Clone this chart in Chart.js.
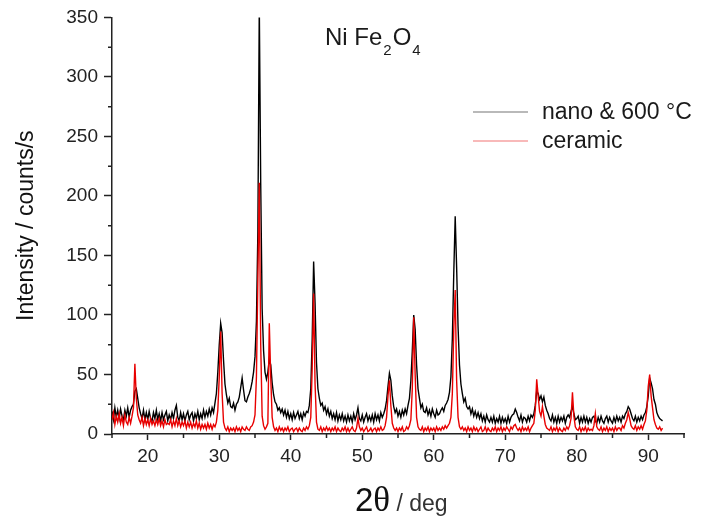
<!DOCTYPE html>
<html>
<head>
<meta charset="utf-8">
<script src="https://cdn.jsdelivr.net/npm/chart.js@4/dist/chart.umd.min.js"></script>
<style>
html,body{margin:0;padding:0;background:#fff;}
#wrap{position:relative;width:702px;height:523px;}
canvas{display:block;}
</style>
</head>
<body>
<div id="wrap"><canvas id="c" width="702" height="523"></canvas></div>
<script>
// 2θ positions (deg)
const twoTheta = [
15,15.2,15.4,15.6,15.8, 16,16.2,16.4,16.6,16.8, 17,17.2,17.4,17.6,17.8, 18,18.2,18.4,18.6,18.8,
19,19.2,19.4,19.6,19.8, 20,20.2,20.4,20.6,20.8, 21,21.2,21.4,21.6,21.8, 22,22.2,22.4,22.6,22.8,
23,23.2,23.4,23.6,23.8, 24,24.2,24.4,24.6,24.8, 25,25.2,25.4,25.6,25.8, 26,26.2,26.4,26.6,26.8,
27,27.2,27.4,27.6,27.8, 28,28.2,28.4,28.6,28.8, 29,29.2,29.4,29.6,29.8, 30,30.2,30.4,30.6,30.8,
31,31.2,31.4,31.6,31.8, 32,32.2,32.4,32.6,32.8, 33,33.2,33.4,33.6,33.8, 34,34.2,34.4,34.6,34.8,
35,35.2,35.4,35.6,35.8, 36,36.2,36.4,36.6,36.8, 37,37.2,37.4,37.6,37.8, 38,38.2,38.4,38.6,38.8,
39,39.2,39.4,39.6,39.8, 40,40.2,40.4,40.6,40.8, 41,41.2,41.4,41.6,41.8, 42,42.2,42.4,42.6,42.8,
43,43.2,43.4,43.6,43.8, 44,44.2,44.4,44.6,44.8, 45,45.2,45.4,45.6,45.8, 46,46.2,46.4,46.6,46.8,
47,47.2,47.4,47.6,47.8, 48,48.2,48.4,48.6,48.8, 49,49.2,49.4,49.6,49.8, 50,50.2,50.4,50.6,50.8,
51,51.2,51.4,51.6,51.8, 52,52.2,52.4,52.6,52.8, 53,53.2,53.4,53.6,53.8, 54,54.2,54.4,54.6,54.8,
55,55.2,55.4,55.6,55.8, 56,56.2,56.4,56.6,56.8, 57,57.2,57.4,57.6,57.8, 58,58.2,58.4,58.6,58.8,
59,59.2,59.4,59.6,59.8, 60,60.2,60.4,60.6,60.8, 61,61.2,61.4,61.6,61.8, 62,62.2,62.4,62.6,62.8,
63,63.2,63.4,63.6,63.8, 64,64.2,64.4,64.6,64.8, 65,65.2,65.4,65.6,65.8, 66,66.2,66.4,66.6,66.8,
67,67.2,67.4,67.6,67.8, 68,68.2,68.4,68.6,68.8, 69,69.2,69.4,69.6,69.8, 70,70.2,70.4,70.6,70.8,
71,71.2,71.4,71.6,71.8, 72,72.2,72.4,72.6,72.8, 73,73.2,73.4,73.6,73.8, 74,74.2,74.4,74.6,74.8,
75,75.2,75.4,75.6,75.8, 76,76.2,76.4,76.6,76.8, 77,77.2,77.4,77.6,77.8, 78,78.2,78.4,78.6,78.8,
79,79.2,79.4,79.6,79.8, 80,80.2,80.4,80.6,80.8, 81,81.2,81.4,81.6,81.8, 82,82.2,82.4,82.6,82.8,
83,83.2,83.4,83.6,83.8, 84,84.2,84.4,84.6,84.8, 85,85.2,85.4,85.6,85.8, 86,86.2,86.4,86.6,86.8,
87,87.2,87.4,87.6,87.8, 88,88.2,88.4,88.6,88.8, 89,89.2,89.4,89.6,89.8, 90,90.2,90.4,90.6,90.8,
91,91.2,91.4,91.6,91.8, 92
];

// nano & 600 °C intensity (counts/s)
const nano = [
19,12,22,14,20, 13,21,15,12,20, 15,22,14,20,23, 25,36,38,30,22,
17,13,20,12,18, 12,19,13,11,18, 13,20,12,17,11, 18,12,16,19,11,
16,12,18,13,20, 24,14,11,18,12, 17,11,16,19,12, 16,18,11,17,13,
19,12,17,13,20, 14,19,15,21,16, 22,18,26,34,52, 75,93,85,62,42,
33,26,30,23,22, 26,20,25,27,31, 39,47,37,28,27, 31,34,38,44,52,
65,95,170,360,210, 105,70,52,46,52, 63,58,43,33,27, 25,20,22,18,21,
16,20,14,19,13, 17,12,18,13,16, 19,13,17,12,18, 15,19,18,24,38,
80,145,110,60,38, 30,24,26,20,23, 17,21,15,19,13, 17,12,18,11,16,
12,17,11,15,10, 16,11,15,10,17, 12,16,22,13,11, 16,10,14,17,11,
15,11,16,10,17, 12,16,11,18,14, 17,21,28,40,51, 45,32,23,18,21,
15,19,14,20,16, 21,17,24,30,45, 70,100,88,58,38, 30,22,25,19,18,
22,16,20,15,21, 17,14,20,16,17, 20,22,19,24,26, 29,35,48,80,135,
183,140,90,58,42, 34,27,30,23,21, 23,17,21,15,19, 14,18,13,17,11,
15,10,16,12,10, 14,10,15,9,13, 10,15,9,14,10, 13,9,15,10,14,
16,17,21,18,14, 11,16,10,14,13, 10,15,11,16,14, 17,24,36,34,29,
32,27,31,24,20, 17,13,11,16,10, 14,9,15,10,14, 11,15,9,14,16,
14,19,23,17,12, 13,15,9,14,10, 15,10,14,9,13, 10,14,15,11,9,
14,10,15,11,9, 13,15,10,14,11, 9,14,10,15,11, 14,10,15,13,17,
19,23,21,17,13, 11,15,10,14,11, 15,12,16,18,23, 32,47,43,38,29,
25,18,15,13,12, 11
];

// ceramic intensity (counts/s)
const ceramic = [
12,18,8,15,10, 17,9,14,7,16, 10,8,14,9,15, 22,59,30,16,12,
9,14,7,13,8, 12,7,13,8,11, 7,12,8,13,7, 11,6,12,8,9,
8,12,6,11,7, 13,7,11,6,10, 7,11,5,10,6, 10,5,9,6,11,
5,9,4,8,5, 8,4,9,5,8, 4,8,6,10,20, 48,86,34,10,5,
3,6,2,5,3, 5,2,6,3,5, 2,6,4,3,6, 4,3,6,7,10,
16,48,130,211,75, 15,7,4,6,9, 93,48,14,6,3, 5,2,6,3,5,
2,5,3,6,2, 4,5,2,4,5, 2,5,3,2,5, 3,6,4,7,14,
55,118,42,10,4, 3,6,2,5,3, 6,3,5,2,5, 3,6,2,5,3,
2,5,3,6,2, 5,2,4,6,3, 2,5,13,6,3, 5,2,4,6,2,
3,5,2,4,5, 2,5,3,6,3, 4,7,14,32,45, 24,9,5,3,5,
2,5,3,6,2, 3,6,4,7,12, 38,98,50,14,6, 4,3,6,2,5,
3,6,2,5,3, 5,2,6,3,5, 3,6,4,7,5, 7,9,14,34,88,
121,45,14,6,4, 6,3,5,2,6, 3,5,2,6,3, 5,2,4,6,2,
3,6,2,5,3, 2,5,3,6,2, 5,3,6,2,5, 3,6,4,2,6,
4,7,8,5,3, 5,2,6,3,5, 3,6,2,5,7, 9,20,46,32,19,
15,23,15,8,5, 4,3,6,2,5, 3,6,2,5,3, 2,5,3,6,4,
7,13,35,15,6, 4,3,6,2,5, 3,6,2,5,3, 4,3,7,17,6,
4,3,6,2,5, 3,6,2,5,3, 5,2,6,3,5, 5,3,7,5,9,
12,18,13,7,5, 4,7,3,6,4, 7,4,8,11,20, 40,50,32,22,12,
8,5,4,6,3, 5
];

const seriesLabels = ['nano & 600 °C', 'ceramic'];
const seriesColors = ['#000000', 'rgb(232,0,0)'];
const xTickLabels = [20, 30, 40, 50, 60, 70, 80, 90];
const yTickLabels = [0, 50, 100, 150, 200, 250, 300, 350];
const yTitle = 'Intensity / counts/s';
const xTitleParts = ['2', 'θ', ' / deg'];
const annotationParts = [['Ni Fe', false], ['2', true], ['O', false], ['4', true]];

const SANS = '"Liberation Sans", Arial, sans-serif';
const SERIF = '"Liberation Serif", "Times New Roman", serif';
const AXIS = '#222';

const extras = {
  id: 'extras',
  afterDraw(chart) {
    const { ctx } = chart;
    const x = chart.scales.x, y = chart.scales.y;
    ctx.save();
    // minor ticks
    ctx.strokeStyle = AXIS;
    ctx.lineWidth = 1.5;
    ctx.beginPath();
    x.ticks.forEach(t => {
      if (!xTickLabels.includes(t.value)) {
        const px = x.getPixelForValue(t.value);
        ctx.moveTo(px, x.top); ctx.lineTo(px, x.top + 4);
      }
    });
    y.ticks.forEach(t => {
      if (!yTickLabels.includes(t.value)) {
        const py = y.getPixelForValue(t.value);
        ctx.moveTo(y.right - 4, py); ctx.lineTo(y.right, py);
      }
    });
    ctx.stroke();

    // legend
    const legX0 = 473, legX1 = 528, legTextX = 542;
    const legY = [112, 141];
    ctx.font = '23px ' + SANS;
    ctx.textBaseline = 'alphabetic';
    ctx.textAlign = 'left';
    chart.data.datasets.forEach((ds, i) => {
      ctx.strokeStyle = ds.borderColor;
      ctx.globalAlpha = 0.55;
      ctx.lineWidth = 1;
      ctx.beginPath();
      ctx.moveTo(legX0, legY[i]); ctx.lineTo(legX1, legY[i]);
      ctx.stroke();
      ctx.globalAlpha = 1;
      ctx.fillStyle = '#1a1a1a';
      ctx.fillText(ds.label, legTextX, legY[i] + 7);
    });

    // annotation "Ni Fe2O4"
    let ax = 325;
    const aBase = 45;
    ctx.fillStyle = '#1a1a1a';
    annotationParts.forEach(([txt, sub]) => {
      ctx.font = (sub ? '15px ' : '24px ') + SANS;
      ctx.fillText(txt, ax, sub ? aBase + 10 : aBase);
      ax += ctx.measureText(txt).width + 1;
    });

    // x title "2θ / deg"
    let tx = 355;
    const tBase = 511;
    ctx.fillStyle = '#111';
    ctx.font = '33px ' + SANS;
    ctx.fillText(xTitleParts[0], tx, tBase);
    tx += ctx.measureText(xTitleParts[0]).width;
    ctx.font = '35px ' + SERIF;
    ctx.fillText(xTitleParts[1], tx, tBase);
    tx += ctx.measureText(xTitleParts[1]).width;
    ctx.font = '23px ' + SANS;
    ctx.fillStyle = '#333';
    ctx.fillText(xTitleParts[2], tx, tBase);
    ctx.restore();
  }
};

new Chart(document.getElementById('c'), {
  type: 'line',
  data: {
    datasets: [
      { label: seriesLabels[0], data: twoTheta.map((v, i) => ({ x: v, y: nano[i] })),
        borderColor: seriesColors[0], borderWidth: 1.4, pointRadius: 0, order: 2, fill: false },
      { label: seriesLabels[1], data: twoTheta.map((v, i) => ({ x: v, y: ceramic[i] })),
        borderColor: seriesColors[1], borderWidth: 1.4, pointRadius: 0, order: 1, fill: false }
    ]
  },
  options: {
    responsive: false,
    animation: false,
    devicePixelRatio: 1,
    layout: { padding: { left: 0, top: 17, right: 18, bottom: 0 } },
    elements: { line: { tension: 0 } },
    plugins: { legend: { display: false }, tooltip: { enabled: false }, title: { display: false } },
    scales: {
      x: {
        type: 'linear', min: 15, max: 95,
        afterFit(s) { s.height = 89; },
        border: { display: true, color: AXIS, width: 1.5 },
        grid: {
          display: true, drawOnChartArea: false, drawTicks: true, tickLength: 6, tickWidth: 1.5,
          tickColor: c => (c.tick && xTickLabels.includes(c.tick.value)) ? AXIS : 'rgba(0,0,0,0)'
        },
        ticks: {
          stepSize: 5, autoSkip: false, maxRotation: 0, padding: 5, color: '#222',
          font: { family: SANS, size: 19 },
          callback: v => xTickLabels.includes(v) ? String(v) : ''
        }
      },
      y: {
        min: 0, max: 350,
        afterFit(s) { s.width = 112; },
        border: { display: true, color: AXIS, width: 1.5 },
        grid: {
          display: true, drawOnChartArea: false, drawTicks: true, tickLength: 8, tickWidth: 1.5,
          tickColor: c => (c.tick && yTickLabels.includes(c.tick.value)) ? AXIS : 'rgba(0,0,0,0)'
        },
        ticks: {
          stepSize: 25, autoSkip: false, padding: 6, color: '#222',
          font: { family: SANS, size: 19 },
          callback: v => yTickLabels.includes(v) ? String(v) : ''
        },
        title: {
          display: true, text: yTitle, color: '#111',
          font: { family: SANS, size: 23 },
          padding: { top: 13, bottom: 0 }
        }
      }
    }
  },
  plugins: [extras]
});
</script>
</body>
</html>
